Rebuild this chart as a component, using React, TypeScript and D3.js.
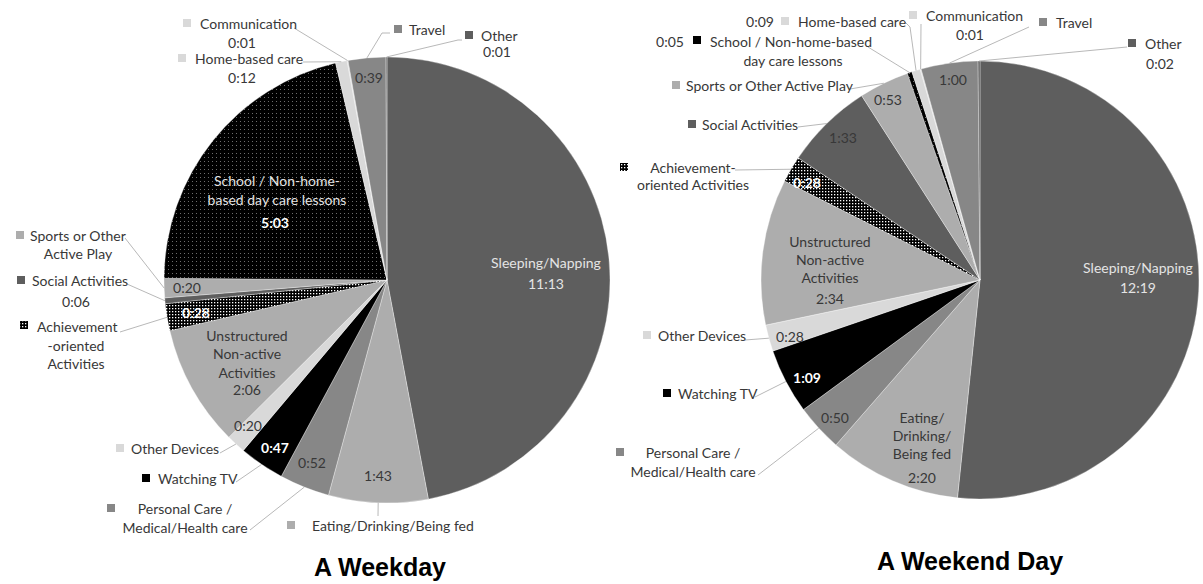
import React from 'react';
import * as d3 from 'd3';

// Minutes per day, same category order for both pies
const categories = [
  'Sleeping/Napping',
  'Eating/Drinking/Being fed',
  'Personal Care / Medical/Health care',
  'Watching TV',
  'Other Devices',
  'Unstructured Non-active Activities',
  'Achievement-oriented Activities',
  'Social Activities',
  'Sports or Other Active Play',
  'School / Non-home-based day care lessons',
  'Home-based care',
  'Communication',
  'Travel',
  'Other',
];
const weekdayMinutes = [673, 103, 52, 47, 20, 126, 28, 6, 20, 303, 12, 1, 39, 1];
const weekendMinutes = [739, 140, 50, 69, 28, 154, 28, 93, 53, 5, 9, 1, 60, 2];
const titles = ['A Weekday', 'A Weekend Day'];

const fills = [
  '#5e5e5e', '#adadad', '#878787', '#000000', '#d9d9d9', '#adadad', 'url(#dotsDense)',
  '#5e5e5e', '#adadad', 'url(#dotsSparse)', '#d9d9d9', '#d9d9d9', '#878787', '#5e5e5e',
];

const LBL = '#383838';
const LIGHT = '#e4e4e4';
const WHITE = '#ffffff';
const FONT = "Lato, 'Liberation Sans', sans-serif";

type Line = { t: string; x: number; y: number; a?: 'start' | 'middle'; w?: string; c?: string };
type Lab = { lines: Line[]; sq?: [number, number]; sqFill?: string; lead?: [number, number][] };

// label placement, relative to each pie centre ('$v' = the value)
const weekdayLabels: Lab[] = [
  { lines: [{ t: 'Sleeping/Napping', x: 159, y: -18, c: LIGHT }, { t: '$v', x: 159, y: 3, c: LIGHT }] },
  { lines: [{ t: '$v', x: -9, y: 195 }, { t: 'Eating/Drinking/Being fed', x: -75, y: 245, a: 'start' }], sq: [-96, 245], lead: [[-9, 236]] },
  { lines: [{ t: '$v', x: -75, y: 182 }, { t: 'Personal Care /', x: -202, y: 228 }, { t: 'Medical/Health care', x: -202, y: 247 }], sq: [-276, 228], lead: [[-137, 250]] },
  { lines: [{ t: '$v', x: -112, y: 167, w: 'bold', c: WHITE }, { t: 'Watching TV', x: -229, y: 198, a: 'start' }], sq: [-241, 198], lead: [[-151, 202]] },
  { lines: [{ t: '$v', x: -139, y: 145 }, { t: 'Other Devices', x: -256, y: 168, a: 'start' }], sq: [-267, 168], lead: [[-167, 173]] },
  { lines: [{ t: 'Unstructured', x: -140, y: 55 }, { t: 'Non-active', x: -140, y: 73 }, { t: 'Activities', x: -140, y: 92 }, { t: '$v', x: -140, y: 109 }] },
  { lines: [{ t: '$v', x: -191, y: 32, w: 'bold', c: WHITE }, { t: 'Achievement', x: -350, y: 46, a: 'start' }, { t: '-oriented', x: -311, y: 65 }, { t: 'Activities', x: -311, y: 83 }], sq: [-363, 45], lead: [[-267, 52]] },
  { lines: [{ t: 'Social Activities', x: -355, y: 0, a: 'start' }, { t: '$v', x: -311, y: 21 }], sq: [-366, 0], lead: [[-260, 4]] },
  { lines: [{ t: '$v', x: -200, y: 7 }, { t: 'Sports or Other', x: -357, y: -45, a: 'start' }, { t: 'Active Play', x: -309, y: -27 }], sq: [-367, -45], lead: [[-262, -42]] },
  { lines: [{ t: 'School / Non-home-', x: -110, y: -100, c: LIGHT }, { t: 'based day care lessons', x: -110, y: -81, c: LIGHT }, { t: '$v', x: -112, y: -58, w: 'bold', c: WHITE }] },
  { lines: [{ t: 'Home-based care', x: -192, y: -222, a: 'start' }, { t: '$v', x: -145, y: -203 }], sq: [-205, -222], lead: [[-84, -218]] },
  { lines: [{ t: 'Communication', x: -187, y: -257, a: 'start' }, { t: '$v', x: -145, y: -238 }], sq: [-200, -257], lead: [[-93, -252]] },
  { lines: [{ t: '$v', x: -18, y: -203 }, { t: 'Travel', x: 22, y: -251, a: 'start' }], sq: [11, -251], lead: [[3, -247], [-5, -247]] },
  { lines: [{ t: 'Other', x: 94, y: -245, a: 'start' }, { t: '$v', x: 110, y: -229 }], sq: [82, -245], lead: [[75, -240], [71, -240]] },
];

const weekendLabels: Lab[] = [
  { lines: [{ t: 'Sleeping/Napping', x: 158, y: -13, c: LIGHT }, { t: '$v', x: 158, y: 7, c: LIGHT }] },
  { lines: [{ t: 'Eating/', x: -58, y: 137 }, { t: 'Drinking/', x: -58, y: 155 }, { t: 'Being fed', x: -58, y: 173 }, { t: '$v', x: -58, y: 197 }] },
  { lines: [{ t: '$v', x: -145, y: 137 }, { t: 'Personal Care /', x: -287, y: 172 }, { t: 'Medical/Health care', x: -287, y: 191 }], sq: [-360, 172], lead: [[-222, 195]] },
  { lines: [{ t: '$v', x: -173, y: 97, w: 'bold', c: WHITE }, { t: 'Watching TV', x: -302, y: 113, a: 'start' }], sq: [-313, 113], lead: [[-225, 117]] },
  { lines: [{ t: '$v', x: -190, y: 56 }, { t: 'Other Devices', x: -322, y: 55, a: 'start' }], sq: [-333, 55], lead: [[-235, 60]] },
  { lines: [{ t: 'Unstructured', x: -150, y: -39 }, { t: 'Non-active', x: -150, y: -21 }, { t: 'Activities', x: -150, y: -3 }, { t: '$v', x: -150, y: 18 }] },
  { lines: [{ t: '$v', x: -173, y: -98, w: 'bold', c: WHITE }, { t: 'Achievement-', x: -287, y: -113 }, { t: 'oriented Activities', x: -287, y: -96 }], sq: [-356, -113], lead: [[-245, -110]] },
  { lines: [{ t: '$v', x: -137, y: -143 }, { t: 'Social Activities', x: -278, y: -156, a: 'start' }], sq: [-288, -156], lead: [[-182, -153]] },
  { lines: [{ t: '$v', x: -92, y: -181 }, { t: 'Sports or Other Active Play', x: -294, y: -195, a: 'start' }], sq: [-304, -195], lead: [[-130, -191]] },
  { lines: [{ t: '$v', x: -310, y: -239 }, { t: 'School / Non-home-based', x: -270, y: -239, a: 'start' }, { t: 'day care lessons', x: -187, y: -220 }], sq: [-283, -240], sqFill: '#000000', lead: [[-112, -233]] },
  { lines: [{ t: '$v', x: -220, y: -259 }, { t: 'Home-based care', x: -182, y: -259, a: 'start' }], sq: [-195, -259], lead: [[-75, -258], [-70, -253]] },
  { lines: [{ t: 'Communication', x: -54, y: -265, a: 'start' }, { t: '$v', x: -10, y: -246 }], sq: [-67, -265], lead: [[-59, -256]] },
  { lines: [{ t: '$v', x: -27, y: -201 }, { t: 'Travel', x: 76, y: -258, a: 'start' }], sq: [63, -258], lead: [[49, -253]] },
  { lines: [{ t: 'Other', x: 165, y: -237, a: 'start' }, { t: '$v', x: 180, y: -217 }], sq: [152, -237], lead: [[147, -233]] },
];

const fmt = (m: number) => `${Math.floor(m / 60)}:${String(m % 60).padStart(2, '0')}`;

interface PieProps {
  values: number[];
  labels: Lab[];
  title: string;
  cx: number;
  cy: number;
  r: number;
  titleX: number;
  titleY: number;
}

function DayPie({ values, labels, title, cx, cy, r, titleX, titleY }: PieProps) {
  const pie = d3.pie<number>().sort(null).value(d => d);
  const arcs = pie(values);
  const arc = d3.arc<d3.PieArcDatum<number>>().innerRadius(0).outerRadius(r);
  const edge = d3.arc<d3.PieArcDatum<number>>().innerRadius(r).outerRadius(r);

  return (
    <g transform={`translate(${cx},${cy})`}>
      {arcs.map((a, i) => (
        <path key={categories[i]} d={arc(a) || ''} fill={fills[i]} stroke="#ffffff" strokeOpacity={0.55} strokeWidth={0.6} />
      ))}
      {arcs.map((a, i) => {
        const lab = labels[i];
        if (!lab.lead) return null;
        const [ex, ey] = edge.centroid(a);
        const pts = [...lab.lead, [ex, ey]];
        return (
          <polyline key={'l' + i} points={pts.map(p => p.join(',')).join(' ')} fill="none" stroke="#a6a6a6" strokeWidth={0.8} />
        );
      })}
      {labels.map((lab, i) => (
        <g key={'t' + i}>
          {lab.sq && (
            <rect x={lab.sq[0] - 4} y={lab.sq[1] - 4} width={8} height={8} fill={lab.sqFill || fills[i]} />
          )}
          {lab.lines.map((ln, j) => (
            <text
              key={j}
              x={ln.x}
              y={ln.y}
              textAnchor={ln.a || 'middle'}
              dominantBaseline="central"
              fontFamily={FONT}
              fontSize={14}
              fontWeight={ln.w || 'normal'}
              fill={ln.c || LBL}
            >
              {ln.t === '$v' ? fmt(values[i]) : ln.t}
            </text>
          ))}
        </g>
      ))}
      <text x={titleX} y={titleY} textAnchor="middle" fontFamily="'Liberation Sans', Arial, sans-serif" fontWeight="bold" fontSize={25} fill="#000">
        {title}
      </text>
    </g>
  );
}

export default function App() {
  return (
    <svg width={1203} height={584} style={{ position: 'absolute', left: 0, top: 0, background: '#fff' }}>
      <defs>
        <pattern id="dotsSparse" width={4} height={4} patternUnits="userSpaceOnUse">
          <rect width={4} height={4} fill="#000" />
          <rect x={1} y={1} width={1} height={1} fill="#6e6e6e" />
        </pattern>
        <pattern id="dotsDense" width={3} height={3} patternUnits="userSpaceOnUse">
          <rect width={3} height={3} fill="#000" />
          <rect x={1} y={1} width={1.3} height={1.3} fill="#ffffff" />
        </pattern>
      </defs>
      <DayPie values={weekdayMinutes} labels={weekdayLabels} title={titles[0]} cx={387} cy={280} r={223} titleX={-7} titleY={296} />
      <DayPie values={weekendMinutes} labels={weekendLabels} title={titles[1]} cx={980} cy={280} r={219} titleX={-10} titleY={290} />
    </svg>
  );
}
